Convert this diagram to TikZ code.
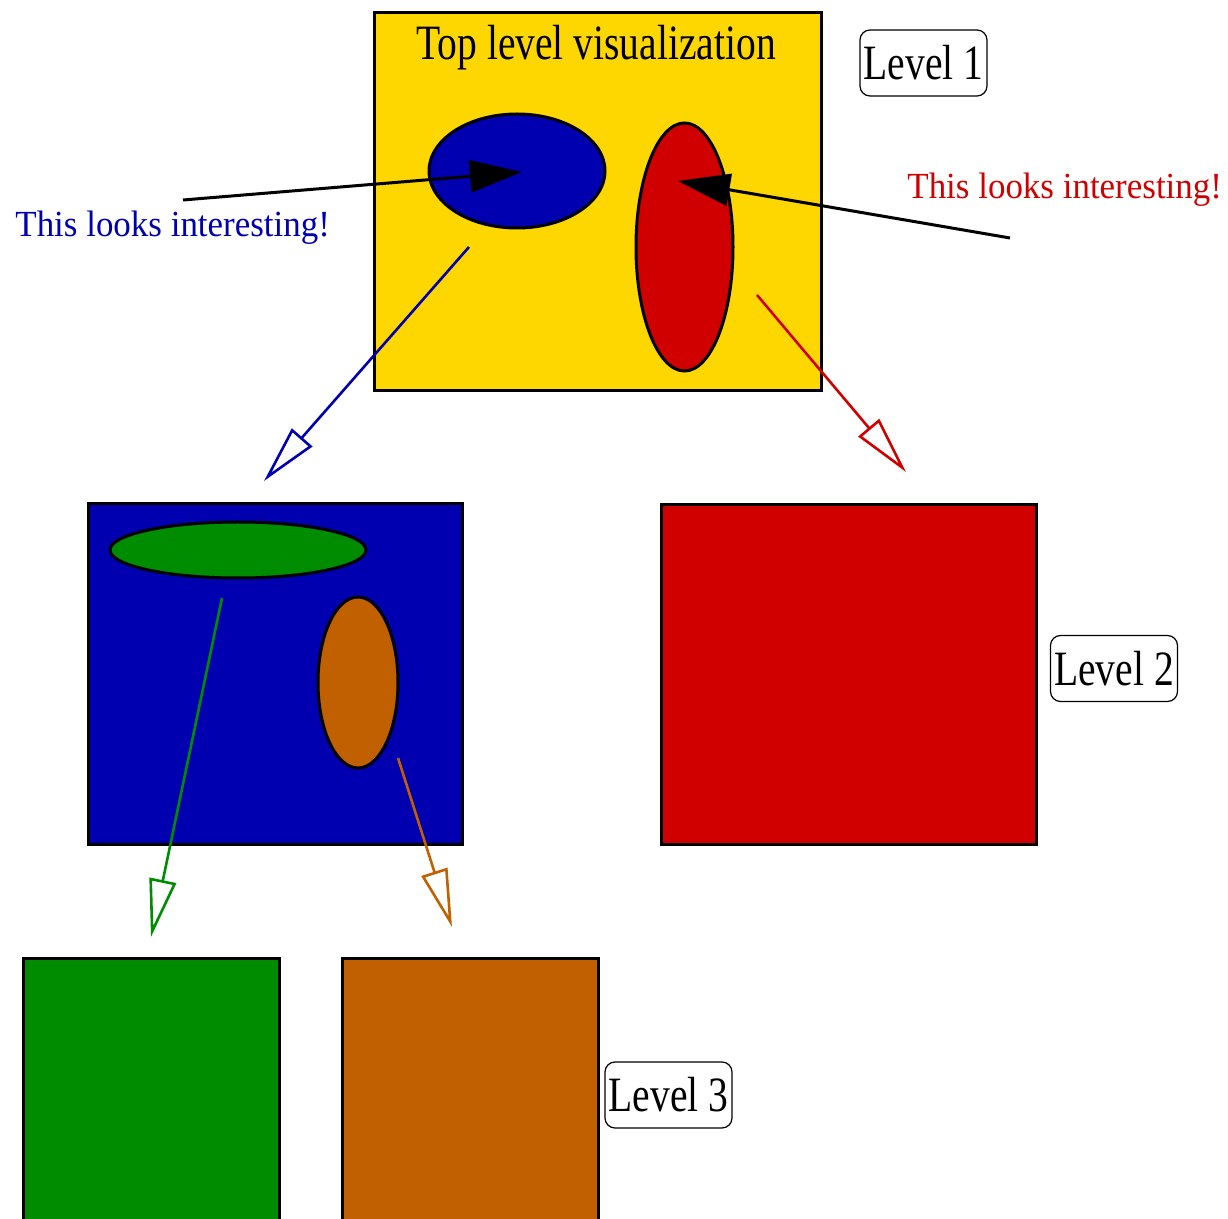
\documentclass[tikz,border=0pt]{standalone}
\usepackage{fontspec}
\setmainfont{Liberation Serif}
\newfontfamily\bigfigfont[FakeStretch=0.8]{Liberation Serif}
\newfontfamily\notefigfont[FakeStretch=0.95]{Liberation Serif}
\usetikzlibrary{shapes.geometric,arrows.meta}
\definecolor{figgold}{RGB}{255,215,0}
\definecolor{figblue}{RGB}{0,0,176}
\definecolor{figred}{RGB}{208,0,0}
\definecolor{figgreen}{RGB}{0,140,0}
\definecolor{figbrown}{RGB}{192,96,0}

\begin{document}
\begin{tikzpicture}[x=0.5pt, y=-0.5pt,
    panel/.style={draw=black, line width=1.5pt, inner sep=0pt, anchor=north west},
    blob/.style={ellipse, draw=black, line width=1.5pt, inner sep=0pt},
    lvl/.style={draw=black, line width=0.6pt, rounded corners=5pt, minimum width=63.5pt, minimum height=33pt, inner sep=0pt, font=\bigfigfont\fontsize{24.7}{26}\selectfont},
    note/.style={font=\notefigfont\fontsize{18.4}{20}\selectfont, anchor=base west, inner sep=0pt},
    look/.style={-{Triangle[length=26pt, width=16pt]}, line width=1.5pt},
    zoomin/.style={-{Triangle[open, length=29pt, width=13.5pt]}, line width=1.3pt}
]
\useasboundingbox (0,0) rectangle (1228,1219);
\clip (0,0) rectangle (1228,1219);

% Level 1: top view
\node[panel, fill=figgold, minimum width=223.5pt, minimum height=189pt] (top) at (373,11) {};
\node[anchor=base, inner sep=0pt, font=\bigfigfont\fontsize{24.7}{26}\selectfont] (toptitle) at (596,60) {Top level visualization};
\node[blob, fill=figblue, minimum width=88pt, minimum height=57pt] (blueblob) at (517,171) {};
\node[blob, fill=figred, minimum width=48.5pt, minimum height=124pt] (redblob) at (684.5,247) {};
\node[lvl] (lvlone) at (923.5,63) {Level 1};

% Level 2
\node[panel, fill=figblue, minimum width=187pt, minimum height=170.5pt] (bluepanel) at (87,502) {};
\node[blob, fill=figgreen, minimum width=128pt, minimum height=28pt] (greenblob) at (238,550) {};
\node[blob, fill=figbrown, minimum width=40pt, minimum height=85.5pt] (brownblob) at (358,682.5) {};
\node[panel, fill=figred, minimum width=187.5pt, minimum height=170pt] (redpanel) at (660,503) {};
\node[lvl] (lvltwo) at (1114,668.5) {Level 2};

% Level 3
\node[panel, fill=figgreen, minimum width=128pt, minimum height=140pt] (greenpanel) at (22,957) {};
\node[panel, fill=figbrown, minimum width=128pt, minimum height=140pt] (brownpanel) at (341,957) {};
\node[lvl] (lvlthree) at (668.5,1095) {Level 3};

% Notes
\node[note, text=figblue] (bluenote) at (15,237) {This looks interesting!};
\node[note, text=figred] (rednote) at (907,199) {This looks interesting!};

% Arrow ends
\coordinate (bluefrom) at (183,200);
\coordinate (blueat) at (522,172);
\coordinate (redfrom) at (1010,238);
\coordinate (redat) at (678,181);
\coordinate (bluezoom) at (469,247);
\coordinate (bluetip) at (264,481);
\coordinate (redzoom) at (757,295);
\coordinate (redtip) at (906,472);
\coordinate (greenzoom) at (222,598);
\coordinate (greentip) at (151,937);
\coordinate (brownzoom) at (398,758);
\coordinate (browntip) at (452,927);

% Arrows
\draw[look] (bluefrom) -- (blueat);
\draw[look] (redfrom) -- (redat);
\draw[zoomin, figblue] (bluezoom) -- (bluetip);
\draw[zoomin, figred] (redzoom) -- (redtip);
\draw[zoomin, figgreen] (greenzoom) -- (greentip);
\draw[zoomin, figbrown] (brownzoom) -- (browntip);
\end{tikzpicture}
\end{document}
